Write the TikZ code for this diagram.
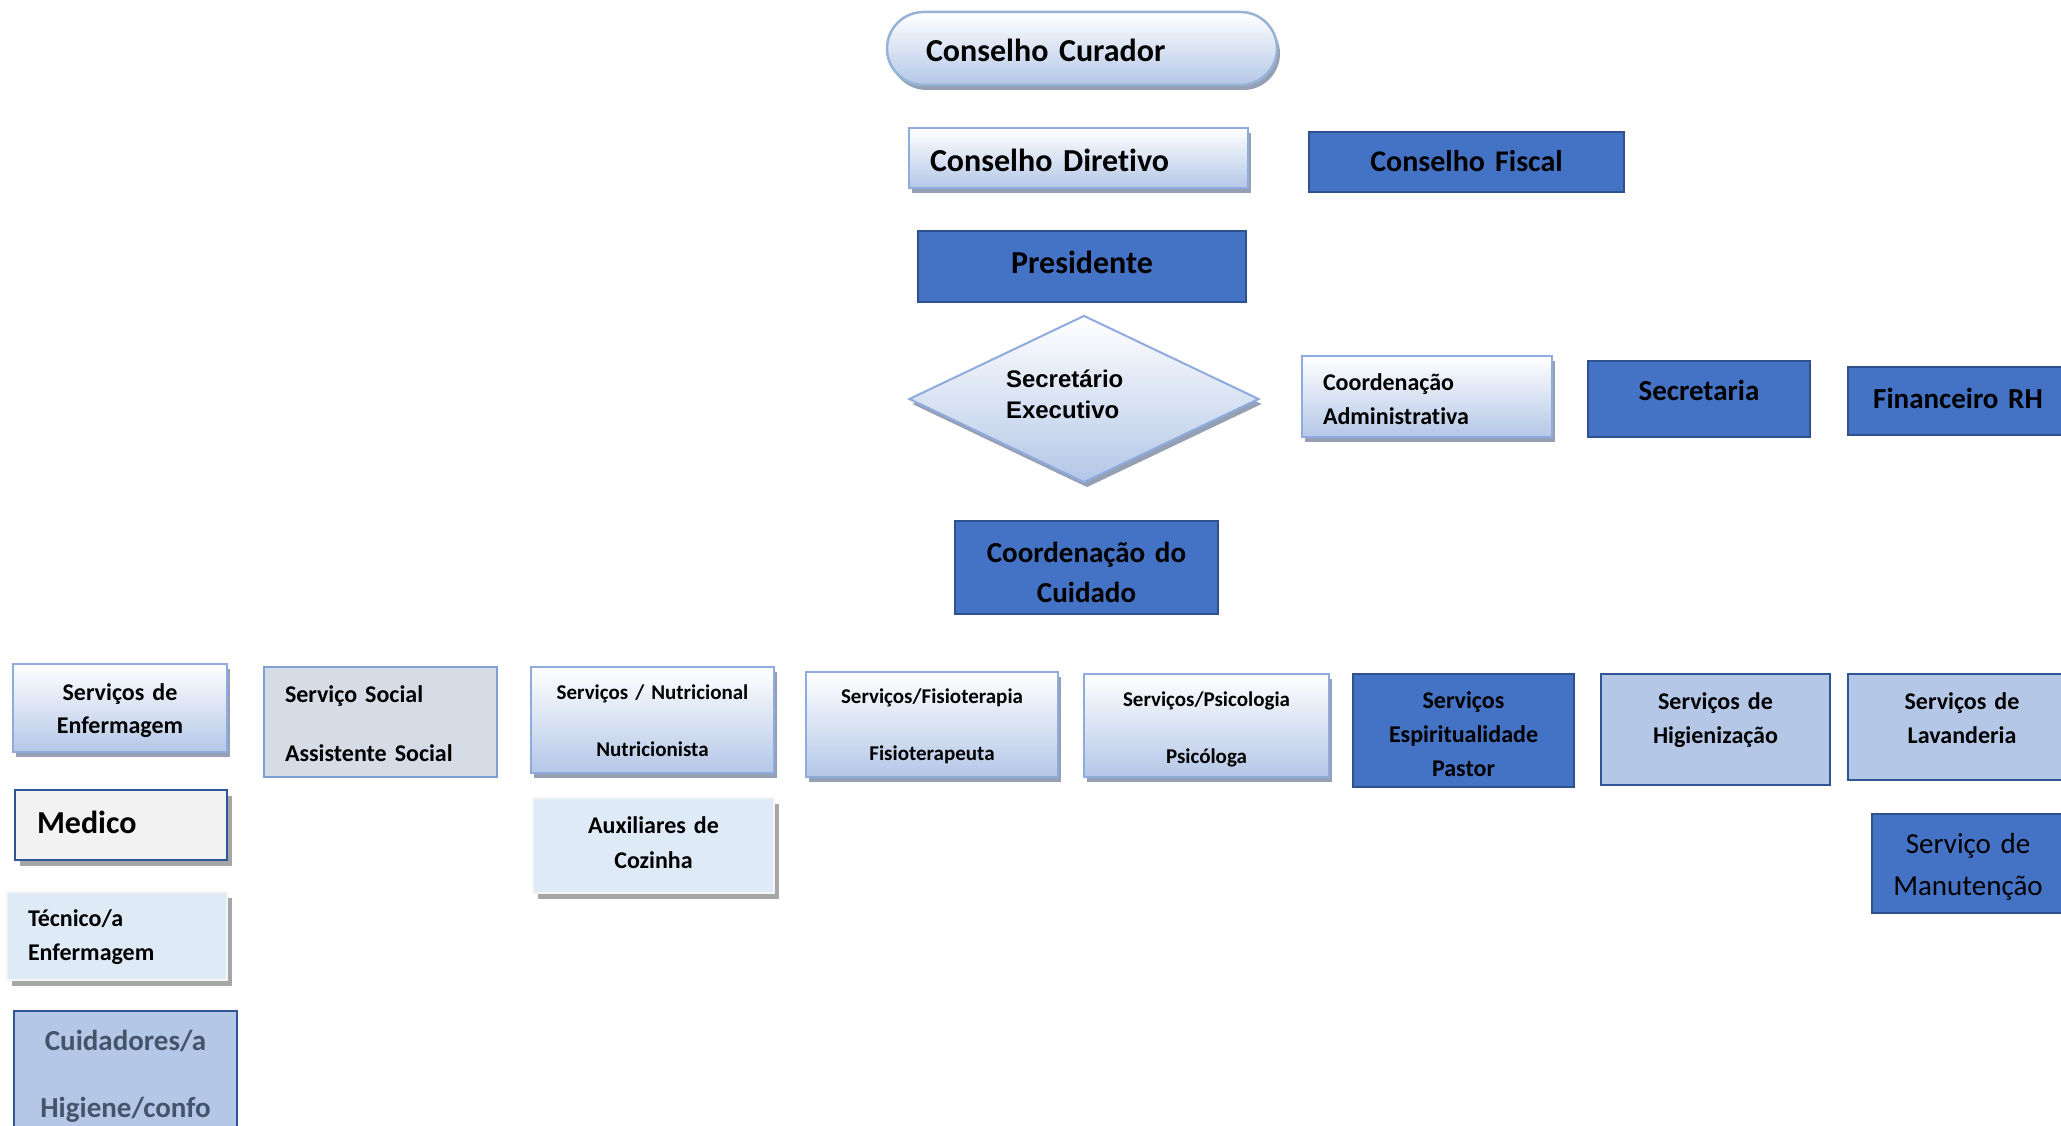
\documentclass[tikz,border=0pt]{standalone}
\usepackage{fontspec}
\setmainfont{Carlito}[Ligatures=NoCommon]
\newfontfamily\arialfam{Liberation Sans}
\usetikzlibrary{shapes.geometric,shadows}

\definecolor{darkfill}{RGB}{68,114,196}
\definecolor{darkline}{RGB}{47,82,143}
\definecolor{paleblue}{RGB}{180,199,231}
\definecolor{paleline}{RGB}{143,170,220}
\definecolor{pillline}{RGB}{149,179,215}
\definecolor{shadowblue}{RGB}{150,160,180}
\definecolor{shadowgray}{RGB}{166,166,166}
\definecolor{socialfill}{RGB}{214,220,229}
\definecolor{socialline}{RGB}{127,159,216}
\definecolor{medfill}{RGB}{242,242,242}
\definecolor{navyline}{RGB}{47,85,151}
\definecolor{icefill}{RGB}{222,235,247}
\definecolor{iceline}{RGB}{245,245,245}
\definecolor{cuidtext}{RGB}{68,84,106}

\newcommand\fs[2]{\fontsize{#1}{#2}\selectfont}

\begin{document}
\begin{tikzpicture}[x=1pt,y=-1pt,
  box/.style={rectangle, inner sep=0pt, text=black, align=center},
  % first baseline sits #1 below the node centre
  bl/.style={text height={(abs(#1)+(#1))*1pt}, text depth={(abs(#1)-(#1))*1pt}},
  wh/.style 2 args={minimum width=#1pt, minimum height=#2pt, text width=#1pt},
  blueshadow/.style={general shadow={shadow xshift=3pt, shadow yshift=-5pt, fill=shadowblue}},
  grayshadow/.style={general shadow={shadow xshift=5pt, shadow yshift=-6pt, fill=shadowgray}},
  dark/.style={box, fill=darkfill, draw=darkline, line width=2.5pt},
  pale/.style={box, top color=white, bottom color=paleblue, draw=paleline, line width=2pt, blueshadow},
  pill/.style={pale, draw=pillline, line width=2.5pt, rounded corners=36.5pt},
  social/.style={box, fill=socialfill, draw=socialline, line width=1.5pt},
  medbox/.style={box, fill=medfill, draw=navyline, line width=2.5pt, grayshadow},
  ice/.style={box, fill=icefill, draw=iceline, line width=2pt, grayshadow},
  light/.style={box, fill=paleblue, draw=navyline, line width=2pt},
  bigb/.style={font=\bfseries\fs{32}{38}},
  midb/.style={font=\bfseries\fs{29}{#1}},
  smallb/.style={font=\bfseries\fs{24}{#1}},
  tinyb/.style={font=\bfseries\fs{21}{#1}}
]
\useasboundingbox (0,0) rectangle (2061,1126);
\fill[white] (0,0) rectangle (2061,1126);
\clip (0,0) rectangle (2061,1126);

% governing bodies
\node[pill, minimum width=390pt, minimum height=73pt, inner xsep=39pt, text width=312pt, align=left, bl=13.5, bigb]
  (curador) at (1082,48.5) {Conselho Curador};
\node[pale, line width=2.5pt, minimum width=339pt, minimum height=60pt, inner xsep=21pt, text width=297pt, align=left, bl=14, bigb]
  (diretivo) at (1078.5,158) {Conselho Diretivo};
\node[dark, wh={315}{60}, bl=10, font=\bfseries\fs{30}{36}]
  (fiscal) at (1466.5,162) {Conselho Fiscal};
\node[dark, wh={328}{71}, bl=6.5, bigb]
  (presidente) at (1082,266.5) {Presidente};

% executive level
\node[diamond, aspect=2.1, inner sep=0pt, minimum width=350pt, minimum height=167pt, top color=white, bottom color=paleblue,
  draw=paleline, line width=2pt, blueshadow, text width=156pt, align=left, bl=-12,
  font=\arialfam\bfseries\fs{24}{31}]
  (secexec) at (1084,399) {Secretário\\Executivo};
\node[pale, minimum width=250pt, minimum height=81pt, inner xsep=21pt, text width=208pt, align=left, bl=-6.5, smallb=34]
  (coordadm) at (1427,396.5) {Coordenação\\Administrativa};
\node[dark, wh={222}{76}, bl=1, midb=35]
  (secretaria) at (1699,399) {Secretaria};
\node[dark, wh={220}{68}, bl=7, midb=35]
  (financeiro) at (1958,401) {Financeiro RH};
\node[dark, wh={263}{93}, bl=-5.5, midb=40]
  (coordcuid) at (1086.5,567.5) {Coordenação do\\Cuidado};

% care services
\node[pale, wh={214}{88}, bl=-8, smallb=33]
  (enfermagem) at (120,708) {Serviços de\\Enfermagem};
\node[social, minimum width=233pt, minimum height=110pt, inner xsep=21pt, text width=191pt, align=left, bl=-20, smallb=59]
  (social) at (380.5,722) {Serviço Social\\Assistente Social};
\node[pale, wh={243}{106}, bl=-21, tinyb=57]
  (nutricao) at (652.5,720) {Serviços / Nutricional\\Nutricionista};
\node[pale, wh={252}{105}, bl=-21.5, tinyb=57]
  (fisio) at (932,724.5) {Serviços/Fisioterapia\\Fisioterapeuta};
\node[pale, wh={245}{103}, bl=-19.5, tinyb=57]
  (psico) at (1206.5,725.5) {Serviços/Psicologia\\Psicóloga};
\node[dark, line width=2pt, wh={221}{113}, bl=-22, smallb=34]
  (espiritual) at (1463.5,730.5) {Serviços\\Espiritualidade\\Pastor};
\node[light, wh={229}{111}, bl=-20.5, smallb=34]
  (higiene) at (1715.5,729.5) {Serviços de\\Higienização};
\node[light, wh={228}{106}, bl=-18, smallb=34]
  (lavanderia) at (1962,727) {Serviços de\\Lavanderia};
\node[dark, line width=2pt, wh={192}{99}, bl=-10, font=\fs{29}{42}]
  (manutencao) at (1968,863.5) {Serviço de\\Manutenção};

% staff under the services
\node[medbox, minimum width=212pt, minimum height=70pt, inner xsep=22pt, text width=168pt, align=left, bl=8, bigb]
  (medico) at (121,825) {Medico};
\node[ice, minimum width=220pt, minimum height=88pt, inner xsep=21pt, text width=178pt, align=left, bl=-10, smallb=34]
  (tecnico) at (117,936) {Técnico/a\\Enfermagem};
\node[light, line width=2.5pt, wh={223}{189}, bl=-55.5, midb=67, text=cuidtext]
  (cuidadores) at (125.5,1105.5) {Cuidadores/a\\Higiene/confo};
\node[ice, wh={241}{95}, bl=-12.5, smallb=35]
  (cozinha) at (653.5,845.5) {Auxiliares de\\Cozinha};
\end{tikzpicture}
\end{document}
